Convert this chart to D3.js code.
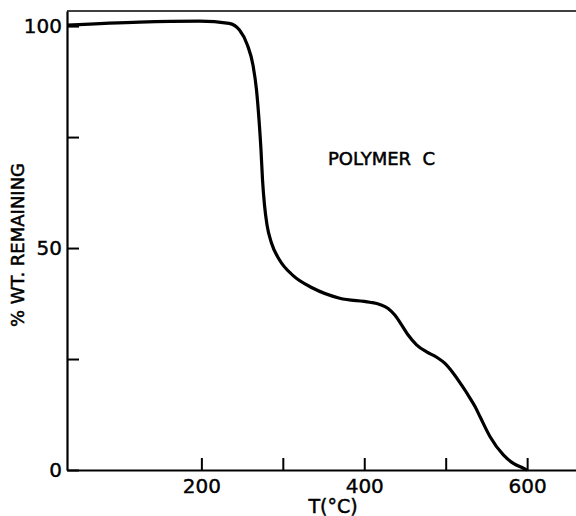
<!DOCTYPE html>
<html>
<head>
<meta charset="utf-8">
<script src="https://cdn.jsdelivr.net/npm/d3@7"></script>
<style>
  body { margin: 0; background: #fff; }
  svg { display: block; }
</style>
</head>
<body>
<script>
// curve: temperature (°C) and % weight remaining
const temps = [35, 124, 198, 234, 246.8, 256.6, 263.4, 267.7, 270.8, 273.2, 275.1, 277.5, 280.6, 286.2, 296, 312, 336.6, 369.8, 406.8, 419.1, 429.3, 437.5, 445.8, 453.9, 464.2, 476.6, 488.9, 499.1, 509.3, 519.6, 529.8, 536, 542.2, 554.5, 570.8, 583.1, 595.4, 600];
const weights = [100.2, 100.9, 101.1, 100.6, 99.1, 95.7, 91.2, 85.6, 78.8, 72.1, 65.3, 59.7, 55.2, 51.1, 47.3, 43.9, 41.0, 38.7, 37.8, 37.3, 36.4, 34.9, 32.7, 30.4, 28.2, 26.6, 25.4, 24.0, 21.8, 19.1, 16.2, 14.3, 12.0, 7.5, 3.4, 1.5, 0.4, 0];

const xTicks = [200, 300, 400, 500, 600];
const xLabels = [200, 400, 600];
const yTicks = [0, 25, 50, 75, 100];
const yLabels = [0, 50, 100];

const W = 576, H = 516;
const frame = { left: 67, right: 576, top: 11, bottom: 470 };
const font = "'DejaVu Sans', sans-serif";

const svg = d3.select("body").append("svg")
    .attr("width", W)
    .attr("height", H);

const x = d3.scaleLinear().domain([35, 660]).range([frame.left, frame.right]);
const y = d3.scaleLinear().domain([0, 103.4]).range([frame.bottom, frame.top]);

//bottom axis, ticks pointing up into the plot
const xAxis = svg.append("g")
    .attr("transform", `translate(0,${frame.bottom})`)
    .call(d3.axisBottom(x)
        .tickValues(xTicks)
        .tickSizeInner(-12)
        .tickSizeOuter(0)
        .tickPadding(9)
        .tickFormat(d => xLabels.includes(d) ? d : ""));

//left axis, ticks pointing right into the plot
const yAxis = svg.append("g")
    .attr("transform", `translate(${frame.left},0)`)
    .call(d3.axisLeft(y)
        .tickValues(yTicks)
        .tickSizeInner(-12)
        .tickSizeOuter(0)
        .tickPadding(5)
        .tickFormat(d => yLabels.includes(d) ? d : ""));

[xAxis, yAxis].forEach(g => {
    g.select(".domain").attr("stroke", "#000").attr("stroke-width", 2.2);
    g.selectAll(".tick line").attr("stroke", "#000").attr("stroke-width", 2);
    g.selectAll(".tick text")
        .attr("fill", "#000")
        .attr("stroke", "#000")
        .attr("stroke-width", 0.4)
        .attr("font-family", font)
        .attr("font-size", 20);
});

//thin frame line along the top
svg.append("line")
    .attr("x1", frame.left).attr("x2", frame.right)
    .attr("y1", y(103.4)).attr("y2", y(103.4))
    .attr("stroke", "#000")
    .attr("stroke-width", 1.5);

const points = temps.map((t, i) => ({ t: t, w: weights[i] }));

const lineGenerator = d3.line()
    .x(d => x(d.t))
    .y(d => y(d.w))
    .curve(d3.curveMonotoneX);

svg.append("path")
    .attr("d", lineGenerator(points))
    .attr("fill", "none")
    .attr("stroke", "#000")
    .attr("stroke-width", 3.2)
    .attr("stroke-linejoin", "round");

//labels
const label = (txt) => svg.append("text")
    .text(txt)
    .style("white-space", "pre")
    .attr("font-family", font)
    .attr("stroke", "#000")
    .attr("stroke-width", 0.5);

label("T(°C)")
    .attr("x", 333)
    .attr("y", 513)
    .attr("text-anchor", "middle")
    .attr("font-size", 19);

label("% WT. REMAINING")
    .attr("transform", "translate(24,245) rotate(-90)")
    .attr("text-anchor", "middle")
    .attr("font-size", 18);

label("POLYMER  C")
    .attr("x", 328)
    .attr("y", 165)
    .attr("font-size", 18);
</script>
</body>
</html>
